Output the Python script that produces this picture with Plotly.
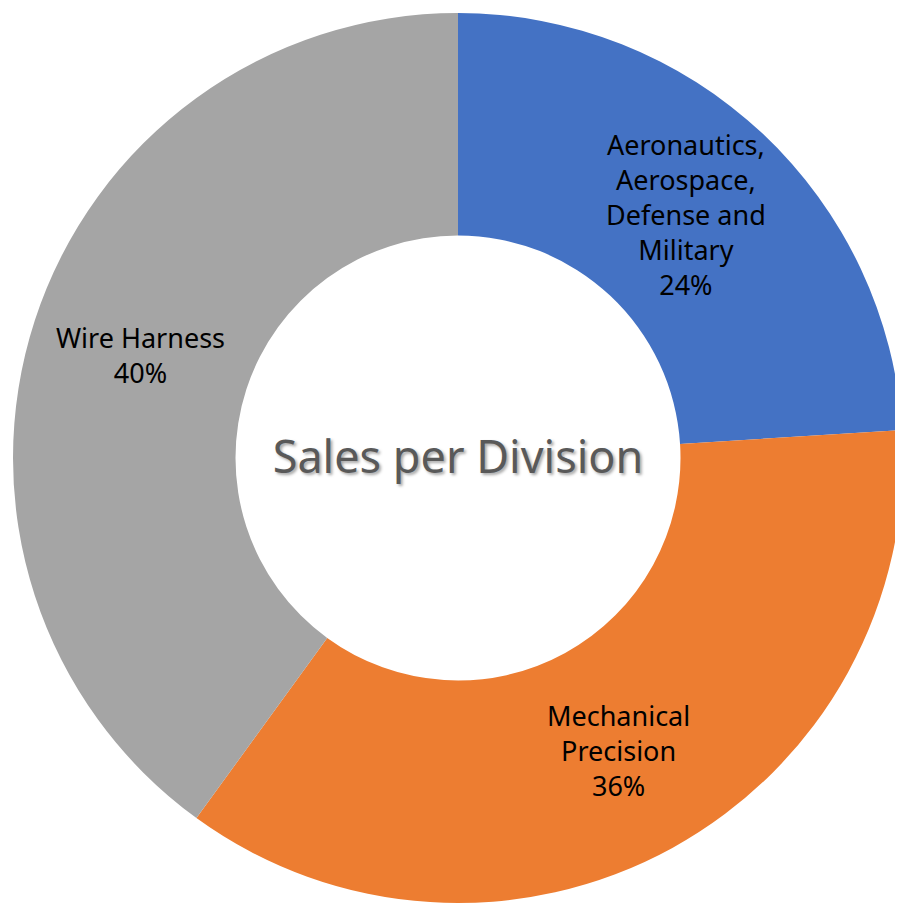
import math
import plotly.graph_objects as go

labels = ["Aeronautics,<br>Aerospace,<br>Defense and<br>Military", "Mechanical<br>Precision", "Wire Harness"]
values = [24, 36, 40]
colors = ["#4472C4", "#ED7D31", "#A5A5A5"]

W, H = 895, 898
L, R, T, B = 5, 0, 5, 3
HOLE = 0.5

fig = go.Figure(go.Pie(
    labels=labels,
    values=values,
    hole=HOLE,
    sort=False,
    direction="clockwise",
    rotation=0,
    marker=dict(colors=colors, line=dict(width=0)),
    textinfo="none",
    title=dict(text="Sales per Division", position="middle center",
               font=dict(family="Noto Sans", size=45, color="#595959",
                         shadow="2px 2px 3px rgba(0,0,0,0.35)")),
    showlegend=False,
))

# Slice labels at the middle of each ring segment, derived from the data
pw, ph = W - L - R, H - T - B
rad = min(pw, ph) / 2
rmid = rad * (1 + HOLE) / 2
total = sum(values)
cum = 0
for lab, v in zip(labels, values):
    frac_mid = (cum + v / 2) / total
    cum += v
    ang = 2 * math.pi * frac_mid
    x = 0.5 + rmid * math.sin(ang) / pw
    y = 0.5 + rmid * math.cos(ang) / ph
    pct = round(100 * v / total)
    fig.add_annotation(
        x=x, y=y, xref="paper", yref="paper",
        text=f"{lab}<br>{pct}%", showarrow=False,
        font=dict(family="Noto Sans", size=27, color="black"),
        align="center", xanchor="center", yanchor="middle",
    )

fig.update_layout(
    width=W, height=H,
    margin=dict(l=L, r=R, t=T, b=B),
    paper_bgcolor="white",
)
fig.write_html("out.html")
